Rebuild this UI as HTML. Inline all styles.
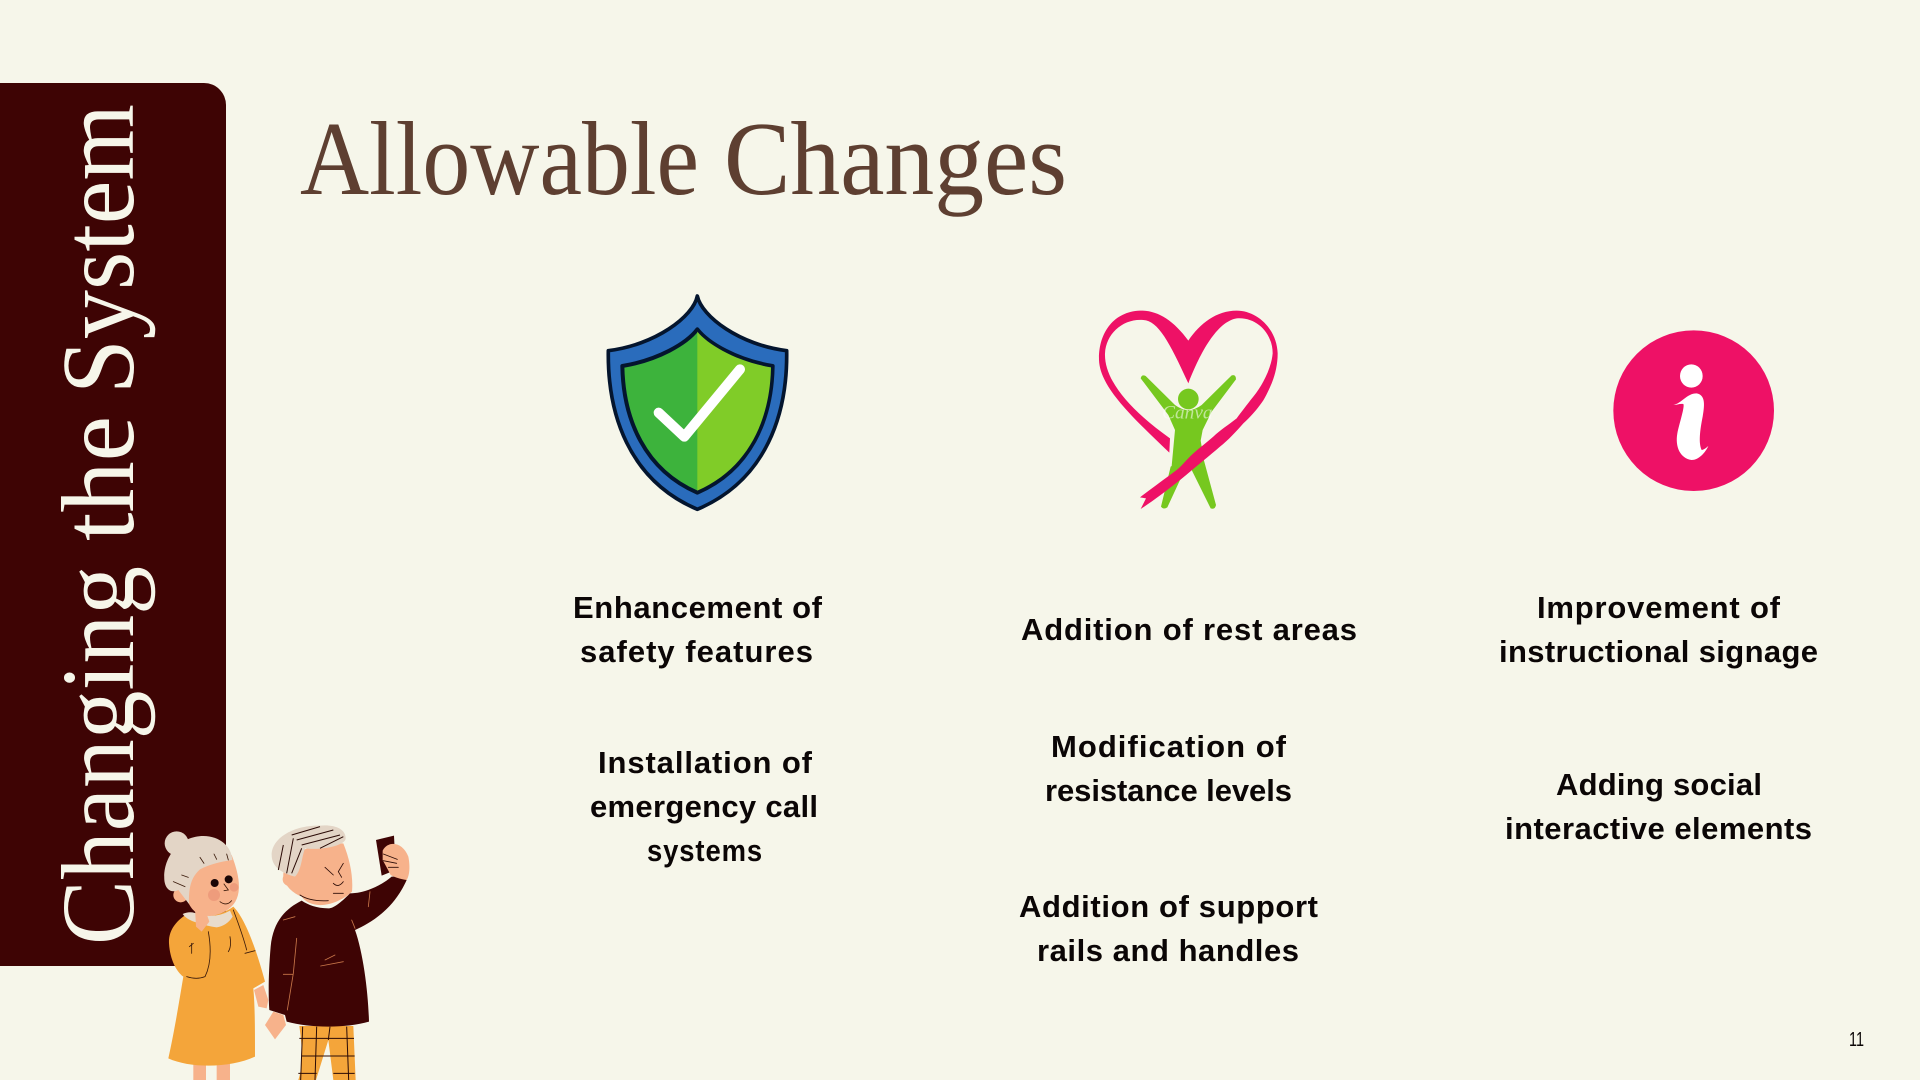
<!DOCTYPE html>
<html lang="en">
<head>
<meta charset="utf-8">
<title>Allowable Changes</title>
<style>
html,body{margin:0;padding:0;width:1920px;height:1080px;overflow:hidden;background:#f6f6ea}
svg{display:block;position:absolute;left:0;top:0}
.item{font-family:"Liberation Sans",sans-serif;font-weight:700;font-size:31px;fill:#0b0606}
.serif{font-family:"Liberation Serif",serif}
</style>
</head>
<body>
<svg width="1920" height="1080" viewBox="0 0 1920 1080">
  <rect width="1920" height="1080" fill="#f6f6ea"/>
  <path d="M0 83H204a22 22 0 0 1 22 22V966H0Z" fill="#3e0404"/>
  <g>
    <text class="serif" transform="translate(133,945) rotate(-90)" font-size="104" fill="#f6f6ea" textLength="379" lengthAdjust="spacingAndGlyphs">Changing</text>
    <text class="serif" transform="translate(133,541) rotate(-90)" font-size="104" fill="#f6f6ea" textLength="125" lengthAdjust="spacingAndGlyphs">the</text>
    <text class="serif" transform="translate(133,394) rotate(-90)" font-size="104" fill="#f6f6ea" textLength="290" lengthAdjust="spacingAndGlyphs">System</text>
  </g>
  <g>
    <text class="serif" x="300" y="194" font-size="105" fill="#5e3f31" textLength="399" lengthAdjust="spacingAndGlyphs">Allowable</text>
    <text class="serif" x="724" y="194" font-size="105" fill="#5e3f31" textLength="343" lengthAdjust="spacingAndGlyphs">Changes</text>
  </g>

  <g transform="translate(0,780) scale(0.33333)">
    <g>
      <rect x="580" y="840" width="38" height="70" fill="#f7b28b"/>
      <rect x="650" y="840" width="40" height="70" fill="#f7b28b"/>
      <circle cx="530" cy="190" r="36" fill="#e3d5c6"/>
      <path d="M555 340C548 280 600 235 695 225C716 280 726 330 706 365C686 398 640 414 610 408C585 402 565 380 555 340Z" fill="#f7b28b"/>
      <circle cx="542" cy="345" r="22" fill="#f7b28b"/>
      <path d="M493 300C488 230 540 168 610 168C660 168 695 200 697 240C660 245 625 255 600 268C575 290 565 320 567 372L535 330C512 342 495 325 493 300Z" fill="#e3d5c6"/>
      <path d="M565 400C530 420 505 450 507 490C510 540 530 575 550 590C535 680 520 770 505 835C570 865 690 865 765 830C765 750 765 680 760 625L795 605C775 530 740 420 700 380C660 410 600 420 565 400Z" fill="#f4a53a"/>
      <path d="M548 402Q572 390 600 405Q650 415 690 392L698 410Q680 438 650 442Q620 438 600 430Q562 422 548 402Z" fill="#e8dccd"/>
      <path d="M585 385L605 405L612 378L628 425L605 455L588 440Z" fill="#f7b28b"/>
      <path d="M762 630L790 615L805 660L800 685L775 680Z" fill="#f7b28b"/>
      <circle cx="642" cy="345" r="18" fill="#ee9c7c"/>
      <circle cx="702" cy="322" r="13" fill="#ee9c7c"/>
      <circle cx="644" cy="309" r="12" fill="#1a0606"/>
      <circle cx="686" cy="298" r="12" fill="#1a0606"/>
      <path d="M672 312L685 330L672 332M660 365Q680 380 695 362M625 455Q640 540 615 590Q590 600 560 590M700 390Q730 470 740 510M690 470Q695 500 685 515M735 520L765 512M568 500L580 490M575 490L575 520M600 232L612 250M642 222L650 238M680 222L685 240M520 305L555 320M545 285L565 292" fill="none" stroke="#3a1a0a" stroke-width="2.5" stroke-linecap="round"/>
    </g>
    <g>
      <path d="M898 738L1060 738L1067 900L1000 900L985 780L948 900L895 900C912 850 905 790 898 738Z" fill="#f4a53a"/>
      <path d="M908 740L902 900M950 740L945 900M990 740L985 780M1040 740L1046 900M898 775H1062M905 828H1064M1000 880H1064M895 880H950" fill="none" stroke="#2a0a05" stroke-width="3"/>
      <path d="M850 290C850 240 880 195 1030 190C1050 240 1060 290 1056 335C1010 378 935 392 905 350C880 340 855 320 850 290Z" fill="#f7b28b"/>
      <circle cx="868" cy="298" r="20" fill="#f7b28b"/>
      <path d="M815 225C815 175 880 135 960 137C1000 133 1037 145 1037 175C1037 197 960 212 915 205C905 230 905 270 885 290C845 280 815 260 815 225Z" fill="#e3d5c6"/>
      <path d="M850 195L835 270M880 175L860 280M905 205L875 280M875 165L960 140M890 180L1000 150M905 195L1020 165M960 205L1030 170" fill="none" stroke="#2a0a05" stroke-width="3"/>
      <path d="M905 362C860 385 820 420 812 500C805 580 805 650 808 690L855 705L860 725C930 745 1040 745 1107 725C1105 640 1090 520 1065 450C1110 430 1180 390 1220 300C1200 290 1190 290 1175 290C1140 320 1090 340 1050 340C1020 370 1000 385 985 385C950 385 925 375 905 362Z" fill="#3e0404"/>
      <path d="M1128 180L1182 167L1187 270L1145 287Z" fill="#3e0404"/>
      <path d="M1148 212C1165 180 1208 186 1225 230C1232 265 1227 290 1220 300C1200 297 1185 292 1172 285L1160 262L1148 240Z" fill="#f7b28b"/>
      <path d="M795 735L820 695L850 705L858 735L825 778Z" fill="#f7b28b"/>
      <path d="M975 262L1000 285M1030 250L1015 275L1025 292M1000 310Q1015 325 1030 305M900 345Q930 365 985 362M1000 340H1030M1150 222L1192 238M1150 242L1190 250M1165 262L1195 262" fill="none" stroke="#2a0a05" stroke-width="2.5" stroke-linecap="round"/>
      <path d="M850 420L885 410M890 475L880 580L862 690M850 583H878M975 540L1005 525M962 558L1030 545M1110 335L1105 380M1055 420L1065 445" fill="none" stroke="#c9774a" stroke-width="2.5" stroke-linecap="round"/>
    </g>
  </g>

  <g transform="translate(580,280) scale(0.33333)">
    <path d="M352 48C365 110 480 195 620 212C623 400 560 600 352 688C145 600 82 400 85 212C225 195 340 110 352 48Z" fill="#2a6cbc" stroke="#04152e" stroke-width="11" stroke-linejoin="round"/>
    <path d="M352 148C385 190 470 240 578 258C575 420 510 570 352 638C195 570 130 420 127 258C235 240 320 190 352 148Z" fill="#3db33c" stroke="#04152e" stroke-width="12" stroke-linejoin="round"/>
    <path d="M352 155C385 195 470 245 573 262C570 420 505 565 352 632Z" fill="#80cc28"/>
    <path d="M236 398L313 470L480 268" fill="none" stroke="#fff" stroke-width="30" stroke-linecap="round" stroke-linejoin="round"/>
  </g>

  <g transform="translate(1080,290) scale(0.33333)">
    <path d="M182 265Q185 252 197 258L285 345Q325 375 365 345L455 256Q468 252 468 268L395 365L368 420L362 452L372 512L408 645Q405 660 392 655L335 540L300 570L262 652Q250 660 243 650L272 530L275 528L285 420L265 375Z" fill="#76c81f"/>
    <circle cx="325" cy="327" r="31" fill="#76c81f"/>
    <path d="M325 152C280 90 230 60 180 62C100 65 55 130 57 210C60 290 150 375 268 488L270 445C150 360 72 270 75 190C78 130 130 85 190 90C235 92 270 160 325 280C360 190 410 95 470 85C530 80 578 130 578 190C574 235 548 285 520 320C500 345 485 365 470 385C445 405 420 420 400 440C380 458 360 472 340 490C320 508 305 528 290 540C250 570 215 595 180 622L198 625L182 657C220 632 260 602 300 570C325 550 348 530 370 512C388 497 405 483 420 470C445 450 468 425 490 400C510 382 525 365 540 345C556 325 566 300 575 280C585 255 593 225 593 190C590 115 530 62 470 62C410 62 360 100 325 152Z" fill="#ee1166"/>
    <text class="serif" x="322" y="385" font-size="58" font-style="italic" fill="#fff" fill-opacity=".55" text-anchor="middle">Canva</text>
  </g>

  <g transform="translate(1590,310) scale(0.33333)">
    <circle cx="311" cy="302" r="241" fill="#ee1166"/>
    <ellipse cx="304" cy="198" rx="34" ry="35" fill="#fff"/>
    <path d="M250 285C275 280 290 250 320 250C345 255 345 280 338 320C330 360 325 400 335 420C345 418 350 412 355 408C345 430 325 450 305 450C270 445 255 410 262 370C268 340 285 290 280 282C270 280 260 285 250 285Z" fill="#fff"/>
  </g>

  <g>
    <text class="item" x="573" y="618" textLength="249">Enhancement of</text>
    <text class="item" x="580" y="662" textLength="233">safety features</text>
    <text class="item" x="598" y="773" textLength="214">Installation of</text>
    <text class="item" x="590" y="817" textLength="228">emergency call</text>
    <text class="item" x="647" y="861" textLength="116" lengthAdjust="spacingAndGlyphs" letter-spacing="1">systems</text>
  </g>
  <g>
    <text class="item" x="1021" y="640" textLength="336">Addition of rest areas</text>
    <text class="item" x="1051" y="757" textLength="235">Modification of</text>
    <text class="item" x="1045" y="801" textLength="247">resistance levels</text>
    <text class="item" x="1019" y="917" textLength="299">Addition of support</text>
    <text class="item" x="1037" y="961" textLength="262">rails and handles</text>
  </g>
  <g>
    <text class="item" x="1537" y="618" textLength="243">Improvement of</text>
    <text class="item" x="1499" y="662" textLength="319">instructional signage</text>
    <text class="item" x="1556" y="795" textLength="206">Adding social</text>
    <text class="item" x="1505" y="839" textLength="307">interactive elements</text>
  </g>
  <text x="1849" y="1046" font-family="'Liberation Sans',sans-serif" font-size="20" fill="#0b0606" textLength="15" lengthAdjust="spacingAndGlyphs">11</text>
</svg>
</body>
</html>
